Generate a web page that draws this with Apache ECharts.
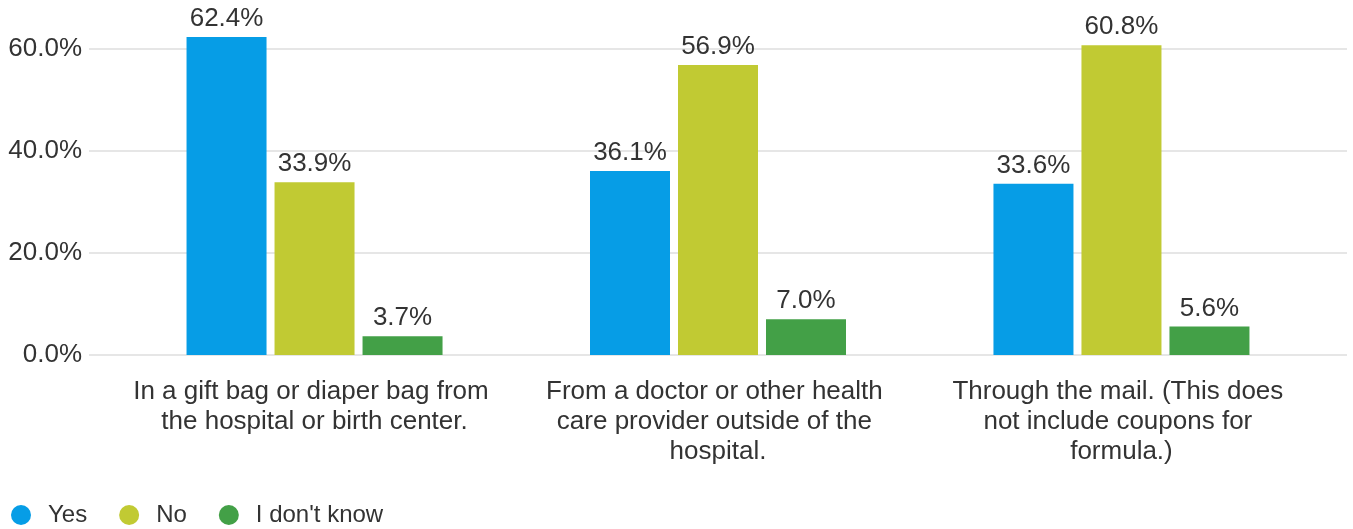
<!DOCTYPE html>
<html>
<head>
<meta charset="utf-8">
<script src="https://cdn.jsdelivr.net/npm/echarts@6/dist/echarts.min.js"></script>
<style>
  html, body { margin: 0; padding: 0; background: #fff; }
  #chart { width: 1353px; height: 529px; }
</style>
</head>
<body>
<div id="chart"></div>
<script>
  // categories and values
  var categories = [
    'In a gift bag or diaper bag from the hospital or birth center.',
    'From a doctor or other health care provider outside of the hospital.',
    'Through the mail. (This does not include coupons for formula.)'
  ];
  var yesValues = [62.4, 36.1, 33.6];
  var noValues = [33.9, 56.9, 60.8];
  var dontKnowValues = [3.7, 7.0, 5.6];
  var seriesNames = ['Yes', 'No', "I don't know"];
  var colors = ['#069de6', '#c1ca33', '#43a047'];

  var textColor = '#333333';
  var font = 'Liberation Sans, Arial, sans-serif';

  function pairs(vals) {
    return vals.map(function (v, i) { return [i, v]; });
  }

  function makeSeries(name, vals, color) {
    return {
      name: name,
      type: 'bar',
      data: pairs(vals),
      barWidth: 80,
      barGap: '10%',
      itemStyle: { color: color },
      label: {
        show: true,
        position: 'top',
        distance: 5,
        color: textColor,
        fontSize: 26,
        fontFamily: font,
        formatter: function (p) { return p.value[1].toFixed(1) + '%'; }
      }
    };
  }

  var chart = echarts.init(document.getElementById('chart'));
  var option = {
    animation: false,
    color: colors,
    textStyle: { fontFamily: font },
    grid: { left: 89, right: 6, top: 37, bottom: 174 },
    legend: {
      left: 11,
      top: 503,
      padding: 0,
      icon: 'circle',
      itemWidth: 20,
      itemHeight: 20,
      itemGap: 32,
      data: seriesNames,
      textStyle: { color: textColor, fontSize: 24, fontFamily: font, padding: [0, 0, 0, 12] }
    },
    xAxis: {
      type: 'value',
      min: -0.559,
      max: 2.559,
      axisLine: { show: false },
      axisTick: { show: false },
      splitLine: { show: false },
      axisLabel: {
        customValues: [0, 1, 2],
        formatter: function (v) { return categories[Math.round(v)]; },
        width: 372,
        overflow: 'break',
        lineHeight: 30,
        margin: 22,
        color: textColor,
        fontSize: 26,
        fontFamily: font,
        align: 'center'
      }
    },
    yAxis: {
      type: 'value',
      min: 0,
      max: 62.4,
      interval: 20,
      axisLine: { show: false },
      axisTick: { show: false },
      splitLine: { show: true, showMaxLine: false, lineStyle: { color: '#e6e6e6', width: 2 } },
      axisLabel: {
        showMaxLabel: false,
        margin: 7,
        color: textColor,
        fontSize: 26,
        fontFamily: font,
        formatter: function (v) { return v.toFixed(1) + '%'; }
      }
    },
    series: [
      makeSeries(seriesNames[0], yesValues, colors[0]),
      makeSeries(seriesNames[1], noValues, colors[1]),
      makeSeries(seriesNames[2], dontKnowValues, colors[2])
    ]
  };
  chart.setOption(option);
</script>
</body>
</html>
